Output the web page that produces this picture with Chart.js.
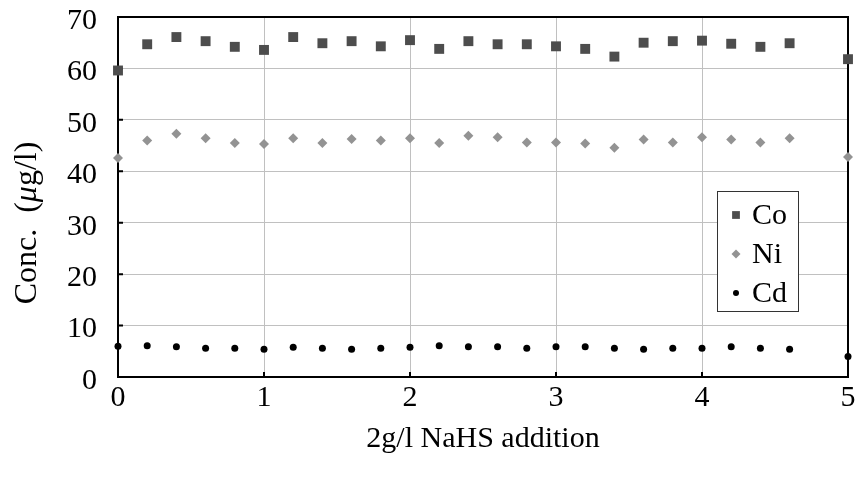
<!DOCTYPE html>
<html>
<head>
<meta charset="utf-8">
<script src="https://cdn.jsdelivr.net/npm/chart.js@4/dist/chart.umd.min.js"></script>
<style>
  html, body { margin: 0; padding: 0; background: #fff; }
  #wrap { width: 859px; height: 485px; }
</style>
</head>
<body>
<div id="wrap"><canvas id="conc"></canvas></div>
<script>
const additions = [0, 0.2, 0.4, 0.6, 0.8, 1.0, 1.2, 1.4, 1.6, 1.8, 2.0, 2.2, 2.4, 2.6, 2.8, 3.0, 3.2, 3.4, 3.6, 3.8, 4.0, 4.2, 4.4, 4.6, 5]
const co = [59.6, 64.7, 66.1, 65.3, 64.2, 63.6, 66.1, 64.9, 65.3, 64.3, 65.5, 63.8, 65.3, 64.7, 64.7, 64.3, 63.8, 62.3, 65.0, 65.3, 65.4, 64.8, 64.2, 64.9, 61.8]
const ni = [42.6, 46.0, 47.3, 46.4, 45.5, 45.3, 46.4, 45.5, 46.3, 46.0, 46.4, 45.5, 46.9, 46.6, 45.6, 45.6, 45.4, 44.6, 46.2, 45.6, 46.6, 46.2, 45.6, 46.4, 42.8]
const cd = [6.0, 6.1, 5.9, 5.6, 5.6, 5.4, 5.8, 5.6, 5.4, 5.6, 5.8, 6.1, 5.9, 5.9, 5.6, 5.9, 5.9, 5.6, 5.4, 5.6, 5.6, 5.9, 5.6, 5.4, 4.0]
const xTicks = [0, 1, 2, 3, 4, 5]
const yTicks = [0, 10, 20, 30, 40, 50, 60, 70]
// y title pieces: [text, italic]
const yTitle = [['Conc.  (', false], ['μ', true], ['g/l)', false]]

const serif = "'Liberation Serif', 'Times New Roman', serif"

const pts = vals => vals.map((v, i) => ({ x: additions[i], y: v }))

// frame round the plot area plus short inward ticks
const frame = {
    id: 'frame',
    beforeDatasetsDraw(chart) {
        const { ctx, chartArea: a, scales } = chart
        ctx.save()
        ctx.strokeStyle = '#000'
        ctx.lineWidth = 2
        ctx.strokeRect(a.left, a.top, a.right - a.left, a.bottom - a.top)
        ctx.beginPath()
        yTicks.forEach(v => {
            const y = scales.y.getPixelForValue(v)
            ctx.moveTo(a.left, y)
            ctx.lineTo(a.left + 5, y)
        })
        xTicks.forEach(v => {
            const x = scales.x.getPixelForValue(v)
            ctx.moveTo(x, a.bottom)
            ctx.lineTo(x, a.bottom - 5)
        })
        ctx.stroke()
        ctx.restore()
    }
}

// rotated y title with an italic mu
const yTitleText = {
    id: 'yTitleText',
    afterDraw(chart) {
        const { ctx, chartArea: a } = chart
        const size = 32
        const fontOf = it => (it ? 'italic ' : '') + size + 'px ' + serif
        let total = 0
        yTitle.forEach(([t, it]) => { ctx.font = fontOf(it); total += ctx.measureText(t).width })
        ctx.save()
        ctx.translate(28, (a.top + a.bottom) / 2 + 26)
        ctx.rotate(-Math.PI / 2)
        ctx.fillStyle = '#000'
        ctx.textBaseline = 'middle'
        ctx.textAlign = 'left'
        let x = -total / 2
        yTitle.forEach(([t, it]) => {
            ctx.font = fontOf(it)
            ctx.fillText(t, x, 0)
            x += ctx.measureText(t).width
        })
        ctx.restore()
    }
}

// boxed legend inside the plot, lower right
const boxLegend = {
    id: 'boxLegend',
    afterDatasetsDraw(chart) {
        const { ctx, chartArea: a } = chart
        const left = a.right - 131, top = a.top + 174, w = 81, h = 120
        ctx.save()
        ctx.fillStyle = '#fff'
        ctx.fillRect(left, top, w, h)
        ctx.strokeStyle = '#333'
        ctx.lineWidth = 1
        ctx.strokeRect(left + 0.5, top + 0.5, w, h)
        const sizes = [5.5, 4.5, 3]
        chart.data.datasets.forEach((ds, i) => {
            const y = top + 24 + i * 39
            ctx.fillStyle = ds.backgroundColor
            ctx.strokeStyle = ds.backgroundColor
            Chart.helpers.drawPoint(ctx, { pointStyle: ds.pointStyle, radius: sizes[i], rotation: 0, borderWidth: 0 }, left + 19, y)
            ctx.fillStyle = '#000'
            ctx.font = '30px ' + serif
            ctx.textBaseline = 'middle'
            ctx.textAlign = 'left'
            ctx.fillText(ds.label, left + 35, y + 1)
        })
        ctx.restore()
    }
}

new Chart(document.querySelector('#conc'), {
    type: 'scatter',
    data: {
        datasets: [{
            label: 'Co',
            data: pts(co),
            pointStyle: 'rect',
            pointRadius: 7,
            backgroundColor: '#4d4d4d',
            borderWidth: 0
        },
        {
            label: 'Ni',
            data: pts(ni),
            pointStyle: 'rectRot',
            pointRadius: 5,
            backgroundColor: '#939393',
            borderWidth: 0
        },
        {
            label: 'Cd',
            data: pts(cd),
            pointStyle: 'circle',
            pointRadius: 3.5,
            backgroundColor: '#000',
            borderWidth: 0
        }]
    },
    options: {
        responsive: true,
        maintainAspectRatio: false,
        animation: false,
        clip: false,
        layout: {
            padding: { top: 17, right: 11, left: 0, bottom: 0 }
        },
        scales: {
            x: {
                type: 'linear',
                min: 0,
                max: 5,
                afterFit: s => { s.height = 108; s.paddingLeft = 0; s.paddingRight = 0 },
                afterBuildTicks: s => { s.ticks = xTicks.map(v => ({ value: v })) },
                grid: {
                    color: '#c0c0c0',
                    lineWidth: 1,
                    drawTicks: false
                },
                border: { display: false },
                ticks: {
                    color: '#000',
                    padding: 6,
                    maxRotation: 0,
                    font: { family: serif, size: 30, lineHeight: 1 }
                },
                title: {
                    display: true,
                    text: '2g/l NaHS addition',
                    color: '#000',
                    padding: { top: 0, bottom: 28 },
                    font: { family: serif, size: 30, lineHeight: 1.2 }
                }
            },
            y: {
                min: 0,
                max: 70,
                afterFit: s => { s.width = 118; s.paddingTop = 0; s.paddingBottom = 0 },
                afterBuildTicks: s => { s.ticks = yTicks.map(v => ({ value: v })) },
                grid: {
                    color: '#c0c0c0',
                    lineWidth: 1,
                    drawTicks: false
                },
                border: { display: false },
                ticks: {
                    color: '#000',
                    padding: 21,
                    labelOffset: 4,
                    font: { family: serif, size: 30, lineHeight: 1 }
                },
                title: { display: false }
            }
        },
        plugins: {
            legend: { display: false },
            tooltip: { enabled: false }
        }
    },
    plugins: [frame, yTitleText, boxLegend]
})
</script>
</body>
</html>
